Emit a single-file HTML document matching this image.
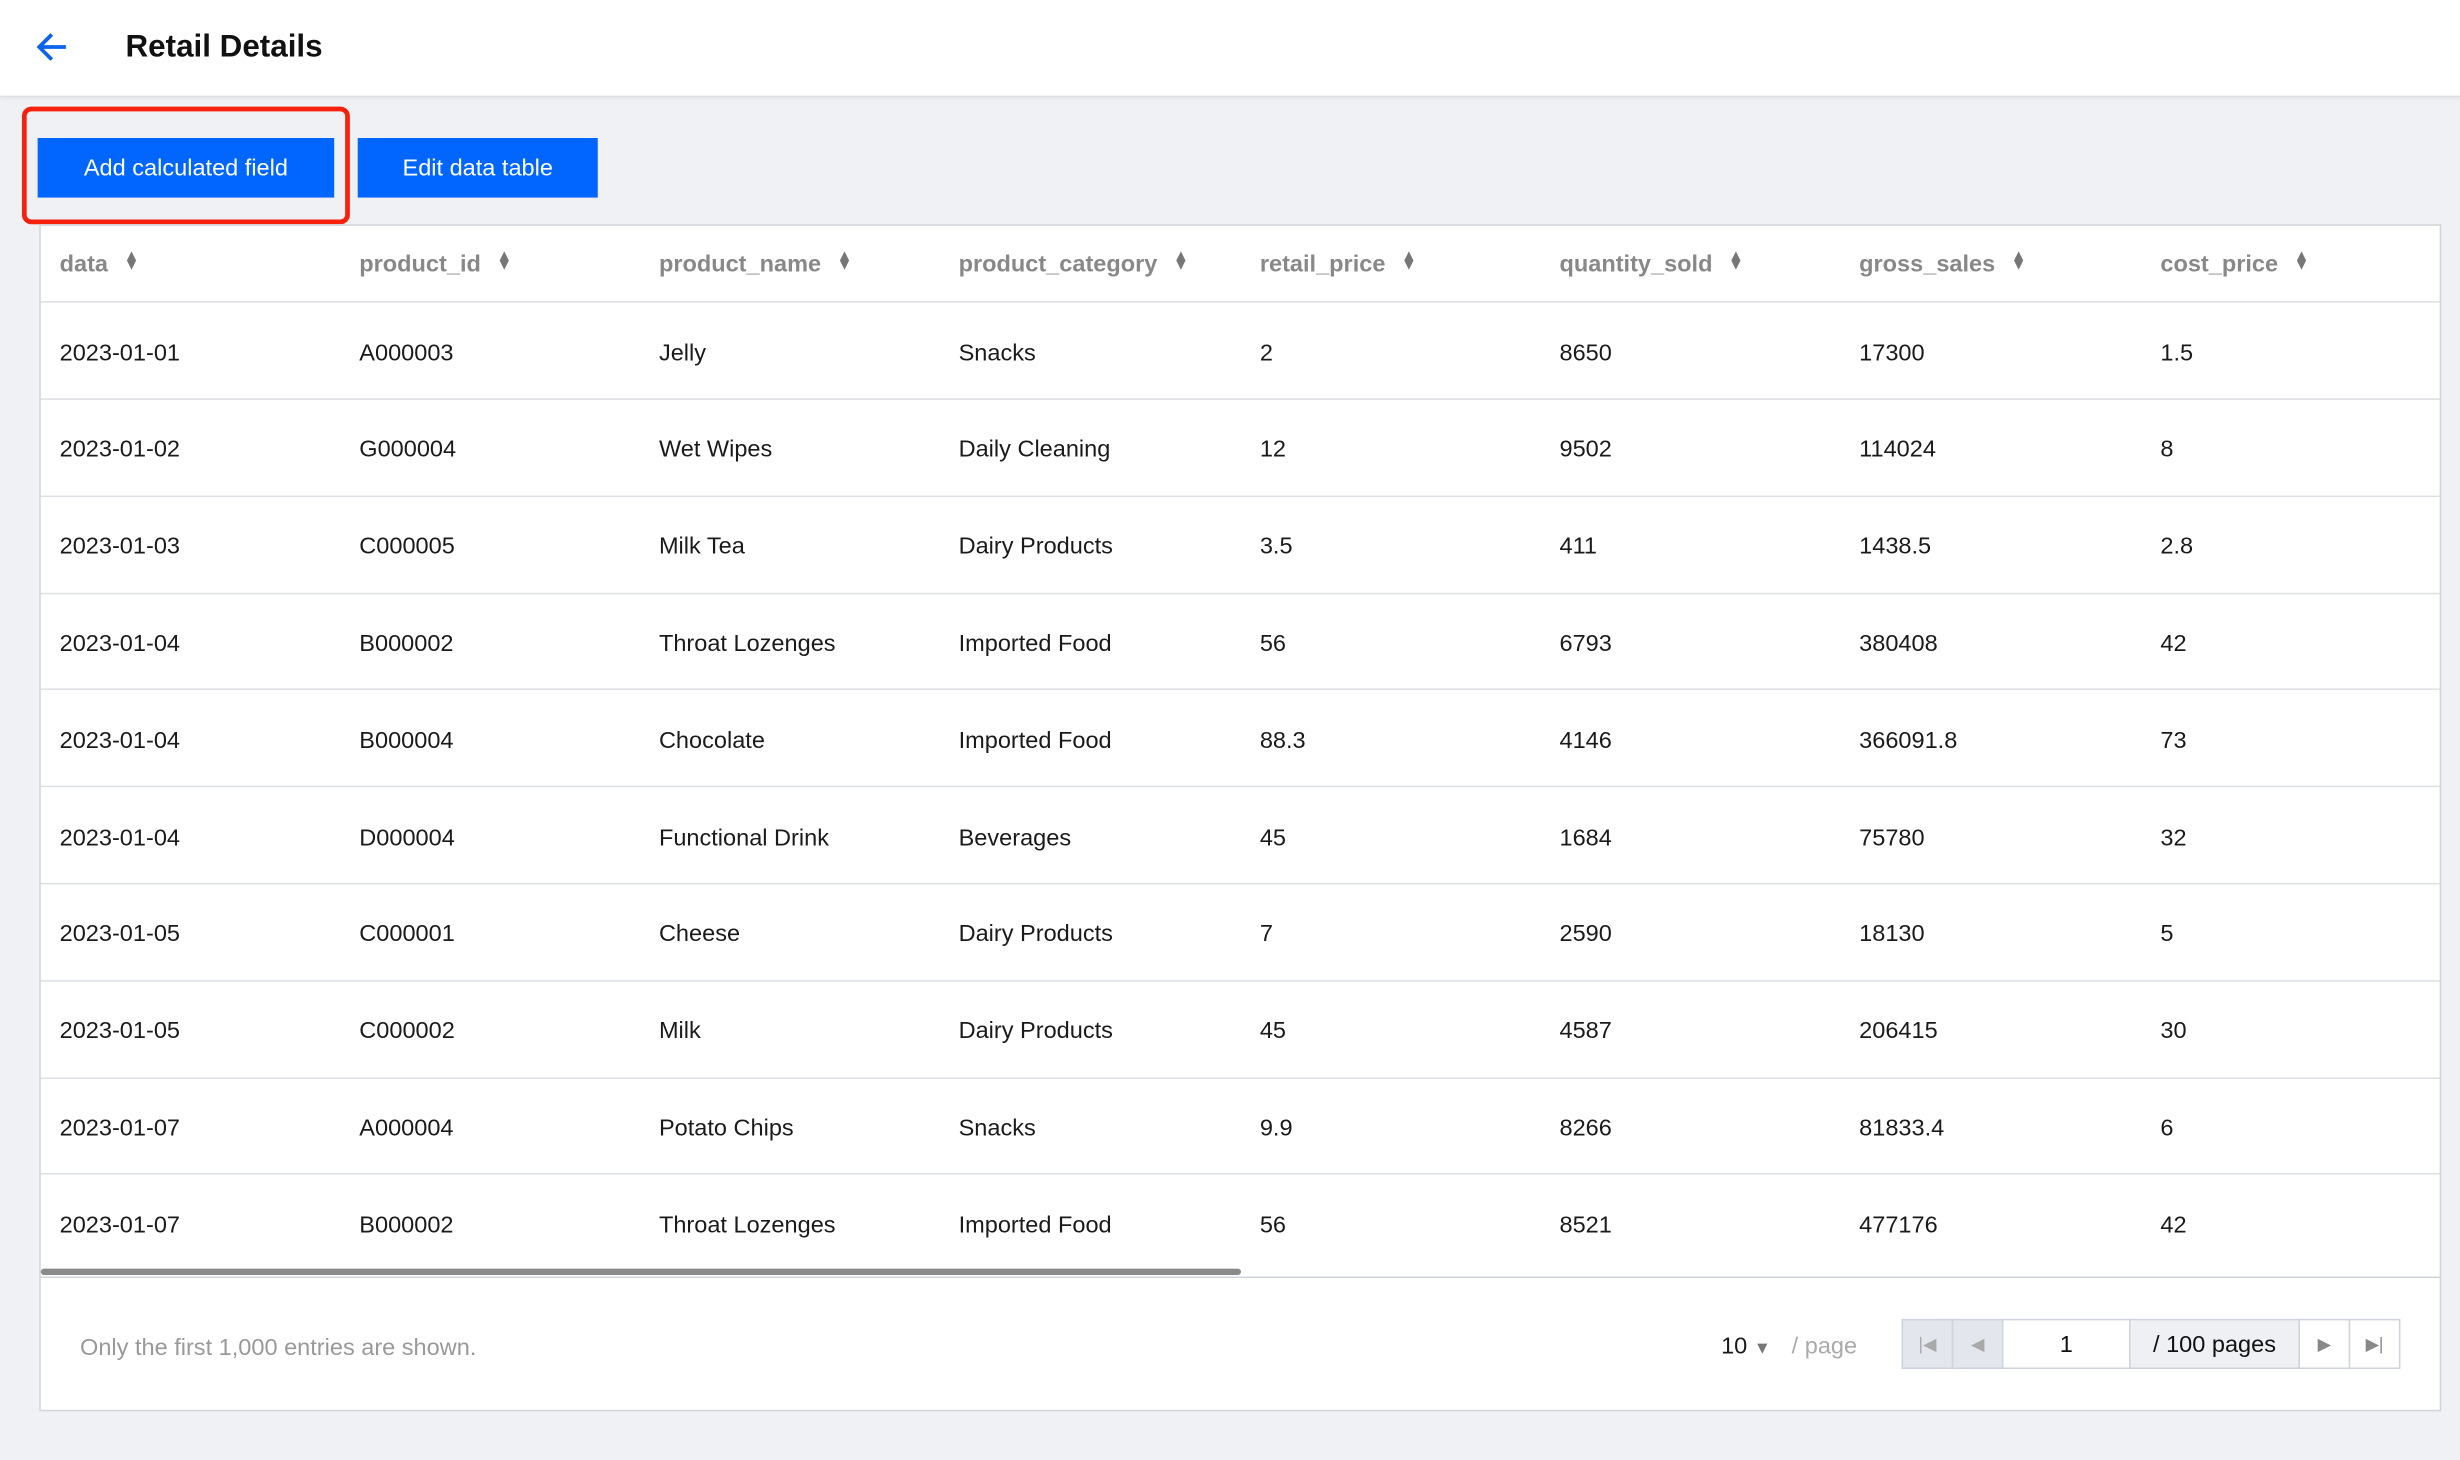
<!DOCTYPE html>
<html><head><meta charset="utf-8"><style>
*{box-sizing:border-box;margin:0;padding:0}
html,body{width:2460px;height:1460px;overflow:hidden;background:#f0f1f5}
#w{position:absolute;left:0;top:0;width:1568px;height:931px;transform:scale(1.5689,1.5682);transform-origin:0 0;font-family:"Liberation Sans",sans-serif;background:#f0f1f5}
.hdr{position:absolute;left:0;top:0;width:1568px;height:62px;background:#fff;border-bottom:1px solid #dcdfe4;box-shadow:0 1px 2px rgba(0,0,0,.06)}
.title{position:absolute;left:80px;top:19px;font-size:20px;font-weight:bold;color:#111}
.red{position:absolute;left:14px;top:68px;width:209px;height:75px;border:3px solid #f5210d;border-radius:6px}
.btn{position:absolute;top:88px;height:38px;background:#0066ff;color:#fff;font-size:15px;line-height:40px;text-align:center}
.panel{position:absolute;left:25px;top:143px;width:1531px;height:757px;background:#fff;border:1px solid #d0d4da}
.row{position:absolute;left:0;width:1529px;border-bottom:1px solid #dde0e5}
.c{position:absolute;font-size:15px;color:#1a1a1a;white-space:nowrap}
.h{color:#888;font-weight:bold}
.s{display:inline-block;margin-left:10px;font-size:10px;vertical-align:1px;color:#777;line-height:6px;width:8px}
.pg{position:absolute;top:841px;height:32px;border:1px solid #cfd3da;font-size:15px;line-height:32px;text-align:center;color:#111}
</style></head><body><div id="w">
<div class="hdr">
<svg style="position:absolute;left:22px;top:20px" width="22" height="20" viewBox="0 0 22 20"><path d="M20 10H4M11 2L3 10l8 8" fill="none" stroke="#0a62ef" stroke-width="2.4"/></svg>
<div class="title">Retail Details</div></div>
<div class="red"></div>
<div class="btn" style="left:24px;width:189px">Add calculated field</div>
<div class="btn" style="left:228px;width:153px">Edit data table</div>
<div class="panel">
<div class="row" style="top:0;height:49px">
<div class="c h" style="left:12px;top:16px">data<span class="s">▲<br>▼</span></div>
<div class="c h" style="left:203px;top:16px">product_id<span class="s">▲<br>▼</span></div>
<div class="c h" style="left:394px;top:16px">product_name<span class="s">▲<br>▼</span></div>
<div class="c h" style="left:585px;top:16px">product_category<span class="s">▲<br>▼</span></div>
<div class="c h" style="left:777px;top:16px">retail_price<span class="s">▲<br>▼</span></div>
<div class="c h" style="left:968px;top:16px">quantity_sold<span class="s">▲<br>▼</span></div>
<div class="c h" style="left:1159px;top:16px">gross_sales<span class="s">▲<br>▼</span></div>
<div class="c h" style="left:1351px;top:16px">cost_price<span class="s">▲<br>▼</span></div>
</div>
<div id="rows"></div>
<div style="position:absolute;left:0;top:665px;width:765px;height:4px;background:#8a8a8a;border-radius:2px"></div>
<div style="position:absolute;left:0;top:670px;width:1529px;border-top:1px solid #d0d4da"></div>
<div class="c" style="left:25px;top:707px;color:#999">Only the first 1,000 entries are shown.</div>
</div>
<div class="c" style="left:1097px;top:850px">10 <span style="color:#777;font-size:11px">▼</span></div>
<div class="c" style="left:1142px;top:850px;color:#aaa">/ page</div>
<div class="pg" style="left:1212px;width:33px;background:#e3e6ec;color:#aaa;font-size:11px">|◀</div>
<div class="pg" style="left:1244px;width:33px;background:#e3e6ec;color:#aaa;font-size:11px">◀</div>
<div class="pg" style="left:1276px;width:82px;background:#fff">1</div>
<div class="pg" style="left:1357px;width:109px;background:#eef0f4">/ 100 pages</div>
<div class="pg" style="left:1465px;width:33px;background:#fff;color:#888;font-size:11px">▶</div>
<div class="pg" style="left:1497px;width:33px;background:#fff;color:#888;font-size:11px">▶|</div>
</div>
<script>
var d=[["2023-01-01","A000003","Jelly","Snacks","2","8650","17300","1.5"],["2023-01-02","G000004","Wet Wipes","Daily Cleaning","12","9502","114024","8"],["2023-01-03","C000005","Milk Tea","Dairy Products","3.5","411","1438.5","2.8"],["2023-01-04","B000002","Throat Lozenges","Imported Food","56","6793","380408","42"],["2023-01-04","B000004","Chocolate","Imported Food","88.3","4146","366091.8","73"],["2023-01-04","D000004","Functional Drink","Beverages","45","1684","75780","32"],["2023-01-05","C000001","Cheese","Dairy Products","7","2590","18130","5"],["2023-01-05","C000002","Milk","Dairy Products","45","4587","206415","30"],["2023-01-07","A000004","Potato Chips","Snacks","9.9","8266","81833.4","6"],["2023-01-07","B000002","Throat Lozenges","Imported Food","56","8521","477176","42"]];
var xs=[12,203,394,585,777,968,1159,1351],h="";
d.forEach(function(r,i){var t=49+i*61.8;h+='<div class="row" style="top:'+t+'px;height:62px;'+(i==9?'border:none':'')+'">';r.forEach(function(v,j){h+='<div class="c" style="left:'+xs[j]+'px;top:23.5px">'+v+'</div>'});h+='</div>'});
document.getElementById('rows').innerHTML=h;
</script>
</body></html>
